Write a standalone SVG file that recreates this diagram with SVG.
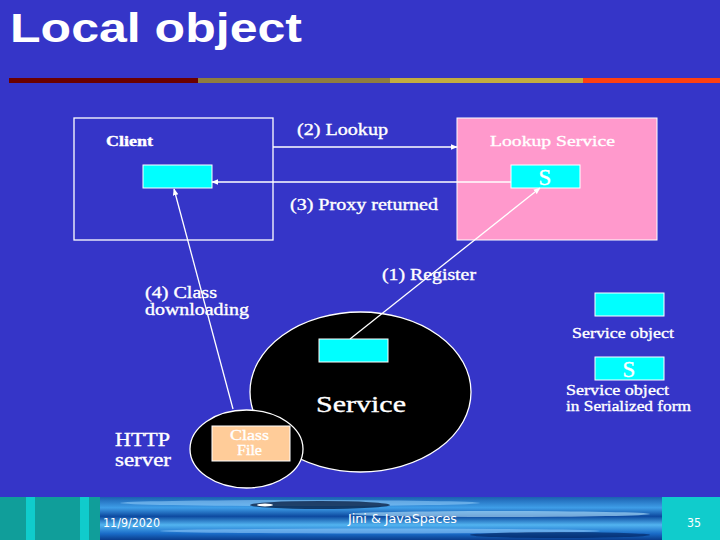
<svg xmlns="http://www.w3.org/2000/svg" width="720" height="540" viewBox="0 0 720 540">
<defs>
<style>
.t{font-family:"Liberation Serif","Times New Roman",serif;fill:#ffffff;stroke:#ffffff;stroke-width:0.35}
.ln{stroke:#ffffff;stroke-width:1.3;fill:none}
.cy{fill:#00ffff;stroke:#ffffff;stroke-width:1}
.ft{font-family:"DejaVu Sans Condensed","Liberation Sans Narrow","Liberation Sans",sans-serif;fill:#ffffff;font-size:12px}
</style>
<marker id="ah" viewBox="0 0 10 10" refX="9" refY="5" markerWidth="7" markerHeight="7" orient="auto" markerUnits="userSpaceOnUse">
<path d="M0,1 L10,5 L0,9 z" fill="#ffffff"/>
</marker>
<linearGradient id="water" x1="0" y1="0" x2="0" y2="1">
<stop offset="0" stop-color="#1a60b0"/>
<stop offset="0.25" stop-color="#3f9ee8"/>
<stop offset="0.45" stop-color="#0d4aa0"/>
<stop offset="0.65" stop-color="#52b4f0"/>
<stop offset="0.85" stop-color="#1a6cc8"/>
<stop offset="1" stop-color="#0a3c8c"/>
</linearGradient>
</defs>
<rect width="720" height="540" fill="#3535c8"/>
<text x="10" y="42" font-family="Liberation Sans,Arial,sans-serif" font-weight="bold" font-size="40" fill="#ffffff" textLength="292" lengthAdjust="spacingAndGlyphs">Local object</text>
<rect x="9" y="78" width="189" height="5" fill="#6b0000"/>
<rect x="198" y="78" width="192" height="5" fill="#8f7d3f"/>
<rect x="390" y="78" width="193" height="5" fill="#c2ac40"/>
<rect x="583" y="78" width="137" height="5" fill="#ff4010"/>

<g id="client">
<rect x="74" y="118" width="199" height="122" class="ln"/>
<text x="106" y="146" class="t" font-size="14" font-weight="bold" textLength="47" lengthAdjust="spacingAndGlyphs">Client</text>
<rect x="143" y="165" width="69" height="23" class="cy"/>
</g>
<g id="lookup">
<rect x="457" y="118" width="200" height="122" fill="#ff99cc" stroke="#ffffff" stroke-width="1"/>
<text x="490" y="146" class="t" font-size="15" fill="#ffeef6" stroke="#ffeef6" textLength="125" lengthAdjust="spacingAndGlyphs">Lookup Service</text>
<rect x="511" y="165" width="69" height="23" class="cy"/>
<text x="545" y="185" class="t" font-size="23" text-anchor="middle">S</text>
</g>
<g id="service">
<ellipse cx="360.5" cy="392" rx="110.5" ry="80" fill="#000000" stroke="#ffffff" stroke-width="1.3"/>
<rect x="319" y="339" width="69" height="23" class="cy"/>
<text x="316" y="412" class="t" font-size="24" textLength="90" lengthAdjust="spacingAndGlyphs">Service</text>
</g>
<g id="http">
<ellipse cx="246.5" cy="449" rx="56.5" ry="39" fill="#000000" stroke="#ffffff" stroke-width="1.3"/>
<rect x="212" y="426" width="78" height="35" fill="#ffcc99" stroke="#ffffff" stroke-width="1"/>
<text x="230" y="440" class="t" font-size="14" textLength="39" lengthAdjust="spacingAndGlyphs">Class</text>
<text x="237" y="455" class="t" font-size="14" textLength="25" lengthAdjust="spacingAndGlyphs">File</text>
<text x="115" y="446" class="t" font-size="18" textLength="55" lengthAdjust="spacingAndGlyphs">HTTP</text>
<text x="115" y="466" class="t" font-size="18" textLength="56" lengthAdjust="spacingAndGlyphs">server</text>
</g>
<g id="legend">
<rect x="595" y="293" width="69" height="23" class="cy"/>
<text x="572" y="338" class="t" font-size="15" textLength="102" lengthAdjust="spacingAndGlyphs">Service object</text>
<rect x="595" y="357" width="69" height="23" class="cy"/>
<text x="629" y="377" class="t" font-size="23" text-anchor="middle">S</text>
<text x="566" y="395" class="t" font-size="15" textLength="103" lengthAdjust="spacingAndGlyphs">Service object</text>
<text x="566" y="411" class="t" font-size="15" textLength="125" lengthAdjust="spacingAndGlyphs">in Serialized form</text>
</g>
<g id="connectors">
<line x1="273" y1="147" x2="457" y2="147" class="ln" marker-end="url(#ah)"/>
<line x1="511" y1="182" x2="212" y2="182" class="ln" marker-end="url(#ah)"/>
<line x1="350" y1="339" x2="540" y2="188" class="ln" marker-end="url(#ah)"/>
<line x1="233" y1="409" x2="174" y2="189" class="ln" marker-end="url(#ah)"/>
<text x="297" y="135" class="t" font-size="16" textLength="91" lengthAdjust="spacingAndGlyphs">(2) Lookup</text>
<text x="290" y="210" class="t" font-size="16" textLength="148" lengthAdjust="spacingAndGlyphs">(3) Proxy returned</text>
<text x="382" y="280" class="t" font-size="16" textLength="94" lengthAdjust="spacingAndGlyphs">(1) Register</text>
<text x="145" y="298" class="t" font-size="16" textLength="72" lengthAdjust="spacingAndGlyphs">(4) Class</text>
<text x="145" y="315" class="t" font-size="16" textLength="104" lengthAdjust="spacingAndGlyphs">downloading</text>
</g>
<g id="footer">
<rect x="0" y="497" width="100" height="43" fill="#109e9a"/>
<rect x="26" y="497" width="9" height="43" fill="#10cccc"/>
<rect x="80" y="497" width="9" height="43" fill="#10cccc"/>
<rect x="100" y="497" width="562" height="43" fill="url(#water)"/>
<ellipse cx="300" cy="503" rx="180" ry="3" fill="#a0d8ff" opacity="0.5"/>
<ellipse cx="320" cy="505" rx="70" ry="4" fill="#001030" opacity="0.7"/>
<ellipse cx="265" cy="505" rx="8" ry="1.5" fill="#ffffff"/>
<ellipse cx="500" cy="514" rx="150" ry="3" fill="#b8e6ff" opacity="0.6"/>
<ellipse cx="380" cy="531" rx="220" ry="2.5" fill="#9fd4ff" opacity="0.5"/>
<ellipse cx="560" cy="535" rx="90" ry="3" fill="#00205a" opacity="0.6"/>
<rect x="662" y="497" width="58" height="43" fill="#10cccc"/>
<text x="103" y="527" class="ft" font-size="13" textLength="57" lengthAdjust="spacingAndGlyphs">11/9/2020</text>
<text x="348" y="523" class="ft" font-size="13" textLength="109" lengthAdjust="spacingAndGlyphs">Jini  &amp;  JavaSpaces</text>
<text x="687" y="527" class="ft" font-size="13" textLength="14" lengthAdjust="spacingAndGlyphs">35</text>
</g>
</svg>
